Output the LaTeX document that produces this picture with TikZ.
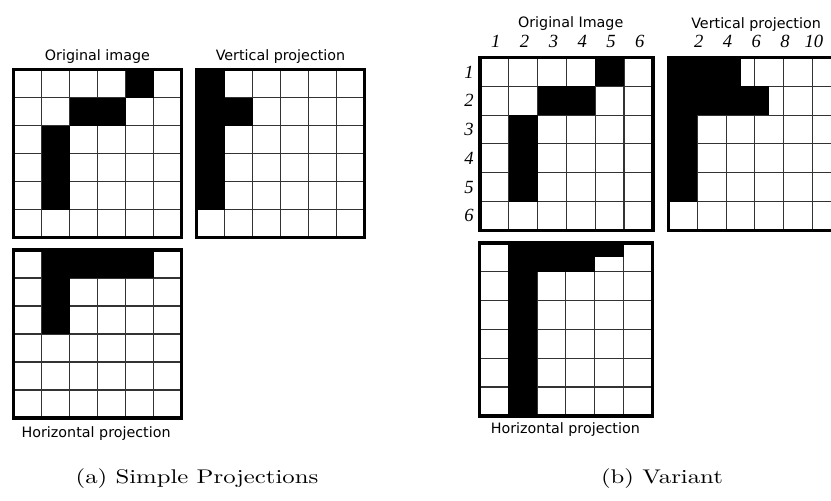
\documentclass[tikz,border=0pt]{standalone}
\usepackage{fontspec}
\usepackage{graphicx}
\newfontfamily\labelfont{DejaVu Sans}
\newfontfamily\numfont{Liberation Serif}

\begin{document}
\begin{tikzpicture}[
      x=0.5pt, y=0.5pt,
      gridline/.style={draw=black!80, line width=0.55pt, step=1},
      frame/.style={draw=black, line width=1.7pt},
      pixel/.style={fill=black},
      title/.style={font=\labelfont\fontsize{7.15}{8}\selectfont, anchor=base},
      index/.style={font=\numfont\itshape\fontsize{9.3}{10}\selectfont},
      caption/.style={font=\fontsize{9.9}{11}\selectfont, anchor=base}
    ]
    \useasboundingbox (0,0) rectangle (831,500);

    % (a) Imagen original
    \begin{scope}[shift={(13.5,262.5)}, x=14pt, y=14pt]
      \draw[gridline] (0,0) grid (6,6);
      \fill[pixel] (4,5) rectangle (5,6);
      \fill[pixel] (2,4) rectangle (4,5);
      \fill[pixel] (1,1) rectangle (2,4);
      \draw[frame] (0,0) rectangle (6,6);
      \node[title] (origA) at (3,6.32) {Original image};
    \end{scope}

    % (a) Proyeccion vertical
    \begin{scope}[shift={(196.5,262.5)}, x=14pt, y=14pt]
      \draw[gridline] (0,0) grid (6,6);
      \fill[pixel] (0,1) rectangle (1,6);
      \fill[pixel] (1,4) rectangle (2,5);
      \draw[frame] (0,0) rectangle (6,6);
      \node[title] (vertA) at (3,6.32) {Vertical projection};
    \end{scope}

    % (a) Proyeccion horizontal
    \begin{scope}[shift={(13.5,82)}, x=14pt, y=14pt]
      \draw[gridline] (0,0) grid (6,6);
      \fill[pixel] (1,5) rectangle (5,6);
      \fill[pixel] (1,3) rectangle (2,5);
      \draw[frame] (0,0) rectangle (6,6);
      \node[title] (horA) at (2.95,-0.7) {Horizontal projection};
    \end{scope}

    % (b) Imagen original con indices
    \begin{scope}[shift={(480,269.7)}, x=14.4pt, y=14.4pt]
      \draw[gridline] (0,0) grid (6,6);
      \fill[pixel] (4,5) rectangle (5,6);
      \fill[pixel] (2,4) rectangle (4,5);
      \fill[pixel] (1,1) rectangle (2,4);
      \draw[frame] (0,0) rectangle (6,6);
      \foreach \c in {1,...,6}
        \node[index, anchor=base] (colB\c) at (\c-0.45,6.33) {\c};
      \foreach \r in {1,...,6}
        \node[index] (rowB\r) at (-0.38,6.5-\r) {\r};
      \node[title] (origB) at (3.15,7.05) {Original Image};
    \end{scope}

    % (b) Proyeccion vertical, cortada por el borde
    \begin{scope}
      \clip (0,0) rectangle (831,500);
      \begin{scope}[shift={(668.5,269.7)}, x=14.4pt, y=14.4pt]
        \draw[gridline] (0,0) grid (6,6);
        \fill[pixel] (0,5) rectangle (2.5,6);
        \fill[pixel] (0,4) rectangle (3.5,5);
        \fill[pixel] (0,1) rectangle (1,4);
        \draw[frame] (0,0) rectangle (6,6);
        \foreach \n [count=\k] in {2,4,6,8,10}
          \node[index, anchor=base] (colV\k) at (\k+0.05,6.36) {\n};
        \node[title] (vertB) at (3.04,7.0) {Vertical projection};
      \end{scope}
    \end{scope}

    % (b) Proyeccion horizontal
    \begin{scope}[shift={(479.5,84.2)}, x=14.4pt, y=14.4pt]
      \draw[gridline] (0,0) grid (6,6);
      \fill[pixel] (1,0) rectangle (2,6);
      \fill[pixel] (1,5) rectangle (4,6);
      \fill[pixel] (4,5.5) rectangle (5,6);
      \draw[frame] (0,0) rectangle (6,6);
      \node[title] (horB) at (2.98,-0.63) {Horizontal projection};
    \end{scope}

    % Leyendas
    \node[caption] (capA) at (197,17) {\scalebox{1.25}[1]{(a) Simple Projections}};
    \node[caption] (capB) at (662,17) {\scalebox{1.25}[1]{(b) Variant}};

  \end{tikzpicture}
\end{document}
